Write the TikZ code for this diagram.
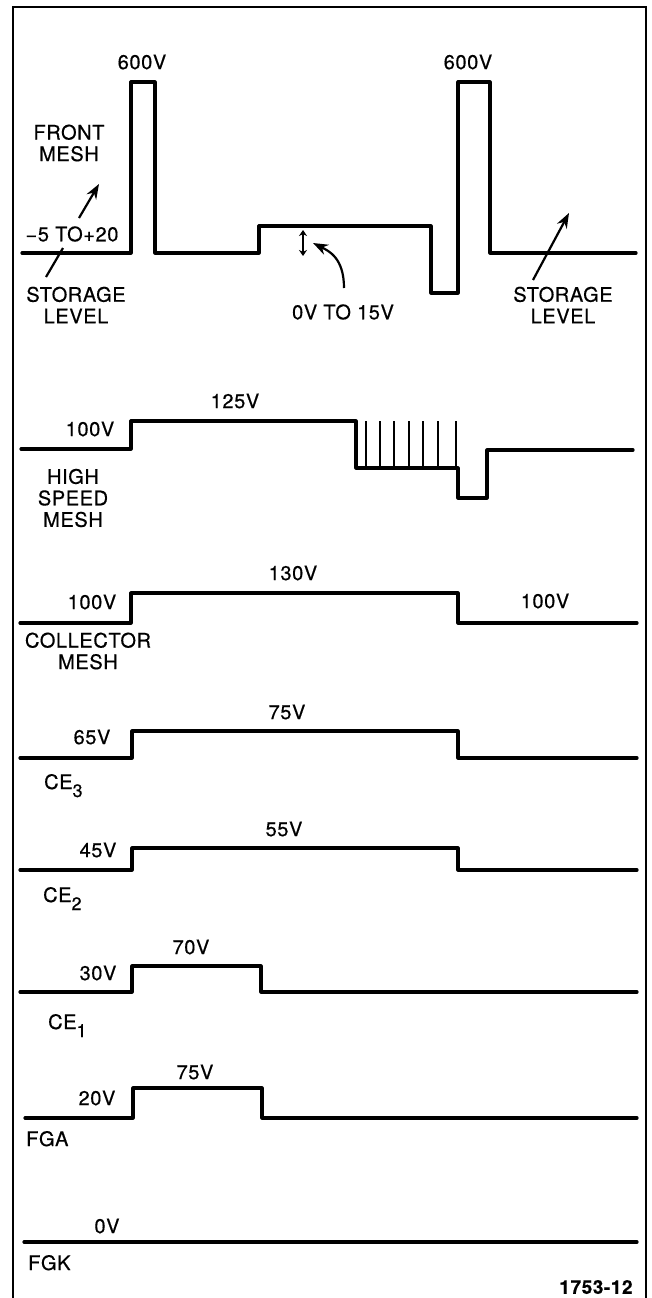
\documentclass[tikz,border=0pt]{standalone}
\usepackage{fontspec}
\setmainfont[LetterSpace=3, FakeBold=0.5]{TeX Gyre Heros}
\usetikzlibrary{arrows.meta}

\begin{document}
\begin{tikzpicture}[
  x=1pt, y=-1pt,
  font=\fontsize{20}{21.5}\selectfont,
  wave/.style={line width=3.2pt, line join=round, line cap=round},
  tickline/.style={line width=1.5pt},
  border/.style={line width=2.5pt},
  volt/.style={inner sep=0pt},
  siglabel/.style={inner sep=0pt, align=center},
  ce/.style={inner sep=0pt, anchor=base west},
  pointer/.style={-{Stealth[length=15pt, width=11pt]}, line width=2.2pt},
  leader/.style={line width=2.2pt},
  gap/.style={{Stealth[length=6pt, width=8pt]}-{Stealth[length=6pt, width=8pt]}, line width=2pt}
]
\useasboundingbox (0,0) rectangle (652,1298);

% --- Frame ---
\draw[border] (13,1300) -- (13,7) -- (646,7) -- (646,1300);

% --- 1. Front Mesh ---
\draw[wave] (22,253) -- (131,253) -- (131,82) -- (155,82) -- (155,253) -- (259,253)
  -- (259,226) -- (431,226) -- (431,293) -- (458,293) -- (458,82) -- (490,82)
  -- (490,253) -- (636,253);
\node[volt] (fmA) at (142,62) {600V};
\node[volt] (fmB) at (468,62) {600V};
\node[siglabel] (front) at (69,143) {FRONT\\MESH};
\node[volt] (range) at (72,234) {−5 TO+20};
\node[siglabel] (stoL) at (76,305) {STORAGE\\LEVEL};
\node[volt] (swing) at (343,312) {0V TO 15V};
\node[siglabel] (stoR) at (563,305) {STORAGE\\LEVEL};

\coordinate (frontTail) at (79,218);
\coordinate (frontTip) at (99,184);
\coordinate (stoLa) at (46,277);
\coordinate (stoLb) at (63,248);
\coordinate (gapTop) at (303,230);
\coordinate (gapBot) at (303,256);
\coordinate (swingTail) at (344,288);
\coordinate (swingTip) at (313,243);
\coordinate (stoRTail) at (533,280);
\coordinate (stoRTip) at (569,213);

\draw[pointer] (frontTail) -- (frontTip);
\draw[leader] (stoLa) -- (stoLb);
\draw[gap] (gapTop) -- (gapBot);
\draw[pointer] (swingTail) .. controls +(0,-30) and +(16,8) .. (swingTip);
\draw[pointer] (stoRTail) -- (stoRTip);

% --- 2. High Speed Mesh ---
\draw[wave] (21,449) -- (131,449) -- (131,421) -- (356,421) -- (356,468) -- (458,468)
  -- (458,498) -- (487,498) -- (487,450) -- (633,450);
\foreach \tx in {366,380,394,409,423,438,456}
  \draw[tickline] (\tx,421) -- (\tx,468);
\node[volt] (hsHi) at (235,401) {125V};
\node[volt] (hsLo) at (90,429) {100V};
\node[siglabel] (hs) at (73,498) {HIGH\\SPEED\\MESH};

% --- 3. Collector Mesh ---
\draw[wave] (20,623) -- (131,623) -- (131,593) -- (458,593) -- (458,623) -- (637,623);
\node[volt] (cmHi) at (293,573) {130V};
\node[volt] (cmLo) at (92,602) {100V};
\node[volt] (cmEnd) at (545,601) {100V};
\node[siglabel] (cm) at (88,651) {COLLECTOR\\MESH};

% --- 4. CE3 ---
\draw[wave] (20,758) -- (132,758) -- (132,731) -- (458,731) -- (458,758) -- (637,758);
\node[volt] (ce3Hi) at (287,712) {75V};
\node[volt] (ce3Lo) at (92,737) {65V};
\node[ce] (ce3) at (44,789) {CE\raisebox{-8pt}{\fontsize{18}{18}\selectfont 3}};

% --- 5. CE2 ---
\draw[wave] (20,870) -- (132,870) -- (132,848) -- (458,848) -- (458,870) -- (637,870);
\node[volt] (ce2Hi) at (284,829) {55V};
\node[volt] (ce2Lo) at (98,850) {45V};
\node[ce] (ce2) at (43,902) {CE\raisebox{-8pt}{\fontsize{18}{18}\selectfont 2}};

% --- 6. CE1 ---
\draw[wave] (20,992) -- (132,992) -- (132,966) -- (261,966) -- (261,992) -- (637,992);
\node[volt] (ce1Hi) at (191,947) {70V};
\node[volt] (ce1Lo) at (98,973) {30V};
\node[ce] (ce1) at (48,1029) {CE\raisebox{-8pt}{\fontsize{18}{18}\selectfont 1}};

% --- 7. FGA ---
\draw[wave] (25,1118) -- (133,1118) -- (133,1088) -- (262,1088) -- (262,1118) -- (637,1118);
\node[volt] (fgaHi) at (195,1072) {75V};
\node[volt] (fgaLo) at (97,1098) {20V};
\node[ce] (fga) at (26,1146) {FGA};

% --- 8. FGK ---
\draw[wave] (24,1242) -- (637,1242);
\node[volt] (fgkLo) at (107,1226) {0V};
\node[ce] (fgk) at (28,1270) {FGK};

\node[volt, font=\fontsize{19}{20}\selectfont\bfseries] (figno) at (596,1287) {1753-12};

\end{tikzpicture}
\end{document}
